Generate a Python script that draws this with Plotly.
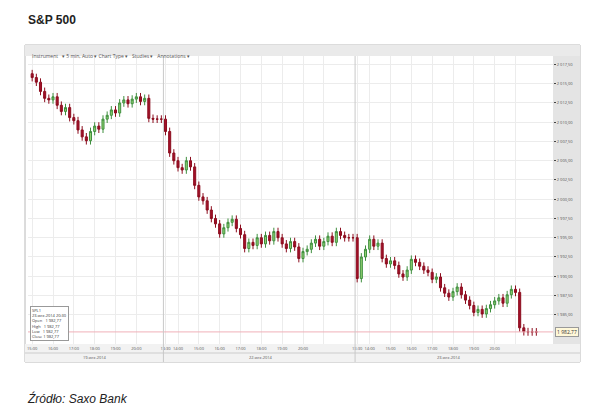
import plotly.graph_objects as go

closes = [2015.8, 2015.2, 2014.0, 2013.1, 2012.9, 2013.3, 2012.2, 2011.4, 2011.9, 2010.6, 2010.2, 2009.0, 2008.1, 2007.6, 2008.8, 2009.5, 2009.1, 2010.4, 2010.9, 2011.6, 2011.2, 2012.5, 2012.9, 2012.4, 2013.0, 2013.3, 2012.7, 2013.1, 2010.5,
          2010.4, 2010.4, 2010.4,
          2008.8, 2006.0, 2005.0, 2004.1, 2003.8, 2005.0, 2004.2, 2001.8, 2000.3, 1999.8, 1998.6, 1997.5, 1996.8, 1995.5, 1996.3, 1997.0, 1997.4, 1996.2, 1995.4, 1993.6, 1994.4, 1994.0, 1995.0, 1994.2, 1995.3, 1994.6, 1995.8, 1995.0, 1994.2, 1993.6, 1994.5, 1993.8, 1992.3, 1993.2, 1993.5, 1994.3, 1994.8, 1993.9, 1994.5, 1995.2, 1994.4, 1995.8, 1995.3, 1995.0, 1995.0, 1995.0,
          1989.7, 1992.5, 1993.5, 1994.8, 1993.9, 1994.3, 1992.3, 1991.6, 1992.0, 1991.4, 1990.3, 1989.9, 1990.8, 1992.2, 1991.8, 1991.3, 1990.8, 1990.5, 1989.6, 1989.9, 1988.5, 1987.8, 1987.3, 1988.0, 1988.6, 1987.6, 1986.9, 1986.2, 1985.3, 1985.7, 1985.1, 1985.8, 1986.3, 1986.8, 1987.2, 1986.5, 1987.6, 1988.3, 1987.9, 1983.3, 1982.8, 1982.77, 1982.77, 1982.77]
first_open = 2016.3
wick = 0.5
last_price = 1982.77
y_ticks = [1985.0, 1987.5, 1990.0, 1992.5, 1995.0, 1997.5, 2000.0, 2002.5, 2005.0, 2007.5, 2010.0, 2012.5, 2015.0, 2017.5]
x_tick_idx = [0, 5, 10, 15, 20, 25, 32, 35, 40, 45, 50, 55, 60, 65, 70, 78, 81, 86, 91, 96, 101, 106, 111, 116]
x_tick_text = ["15:00", "16:00", "17:00", "18:00", "19:00", "20:00", "13:30", "14:00", "15:00", "16:00", "17:00", "18:00", "19:00", "20:00", "",
               "13:30", "14:00", "15:00", "16:00", "17:00", "18:00", "19:00", "20:00", ""]
day_labels = ["19-wrz-2014", "22-wrz-2014", "23-wrz-2014"]
day_pos = [15, 55, 100]
session_breaks = [31.5, 77.5]

opens = [first_open] + closes[:-1]
highs = [max(o, c) + wick for o, c in zip(opens, closes)]
lows = [min(o, c) - wick for o, c in zip(opens, closes)]
x = list(range(len(closes)))

W, H = 590, 405
def px(v): return v / W
def py(v): return 1 - v / H

fig = go.Figure()
fig.add_trace(go.Candlestick(x=x, open=opens, high=highs, low=lows, close=closes,
    increasing=dict(line=dict(color="#3f8f3f", width=1), fillcolor="#8fcf6f"),
    decreasing=dict(line=dict(color="#8c0d1e", width=1), fillcolor="#a3102a"),
    whiskerwidth=0, showlegend=False))

shapes = [
    dict(type="rect", xref="paper", yref="paper", x0=px(17), x1=px(572), y0=py(354), y1=py(37),
         line=dict(color="#b8b8b8", width=1), fillcolor="rgba(0,0,0,0)", layer="below"),
    dict(type="rect", xref="paper", yref="paper", x0=px(17), x1=px(572), y0=py(48), y1=py(37),
         line=dict(width=0), fillcolor="#eaeaea", layer="below"),
    dict(type="rect", xref="paper", yref="paper", x0=px(545), x1=px(572), y0=py(336), y1=py(48),
         line=dict(width=0), fillcolor="#e4e4e4", layer="below"),
    dict(type="rect", xref="paper", yref="paper", x0=px(17), x1=px(572), y0=py(354), y1=py(336),
         line=dict(width=0), fillcolor="#f2f2f2", layer="below"),
    dict(type="line", xref="paper", yref="paper", x0=px(17), x1=px(572), y0=py(345), y1=py(345),
         line=dict(color="#cccccc", width=1)),
    dict(type="line", xref="paper", yref="y", x0=px(20), x1=px(545), y0=last_price, y1=last_price,
         line=dict(color="#f0b0b8", width=1)),
]
for b in session_breaks:
    shapes.append(dict(type="line", xref="x", yref="paper", x0=b, x1=b, y0=py(354), y1=py(48),
                       line=dict(color="#c8c8c8", width=1)))

ann = [
    dict(text="<b>S&P 500</b>", x=px(18), y=py(12), xref="paper", yref="paper", xanchor="left", yanchor="middle",
         showarrow=False, font=dict(size=12, color="#222", family="Liberation Sans")),
    dict(text="<i>Źródło: Saxo Bank</i>", x=px(17), y=py(390), xref="paper", yref="paper", xanchor="left",
         yanchor="middle", showarrow=False, font=dict(size=12, color="#222", family="Liberation Sans")),
    dict(text="1 982,77", x=px(547), y=last_price, xref="paper", yref="y", xanchor="left", showarrow=False,
         font=dict(size=5, color="#333"), bgcolor="#fff8d8", bordercolor="#999", borderwidth=1),
    dict(text="Instrument &nbsp; ▾ 5 min, Auto ▾ Chart Type ▾ &nbsp; Studies ▾ &nbsp; Annotations ▾",
         x=px(22), y=py(42.5), xref="paper", yref="paper", xanchor="left", showarrow=False,
         font=dict(size=5, color="#555")),
    dict(text="SPL1<br>23-wrz-2014 20:30<br>Open &nbsp; 1 982,77<br>High &nbsp; 1 982,77<br>Low &nbsp; 1 982,77<br>Close 1 982,77",
         x=px(22), y=py(298), xref="paper", yref="paper", xanchor="left", yanchor="top", align="left",
         showarrow=False, font=dict(size=4, color="#333"), bgcolor="white", bordercolor="#999", borderwidth=1),
]
for t, p in zip(day_labels, day_pos):
    ann.append(dict(text=t, x=p, y=py(349.5), xref="x", yref="paper", showarrow=False, yanchor="middle",
                    font=dict(size=4, color="#555")))

fig.update_layout(
    width=W, height=H, margin=dict(l=0, r=0, t=0, b=0),
    paper_bgcolor="white", plot_bgcolor="white",
    shapes=shapes, annotations=ann,
    xaxis=dict(domain=[px(20), px(545)], range=[-1, len(closes) + 3], rangeslider=dict(visible=False),
               tickvals=x_tick_idx, ticktext=x_tick_text, tickfont=dict(size=4, color="#555"),
               tickangle=0, ticklabelstandoff=1, showgrid=True, gridcolor="#ececec", zeroline=False, anchor="y"),
    yaxis=dict(domain=[py(336), py(48)], range=[1981.2, 2018.6], side="right", tickvals=y_ticks,
               ticktext=[f"{v:,.2f}".replace(",", " ").replace(".", ",") for v in y_ticks],
               tickfont=dict(size=4, color="#555"), showgrid=True, gridcolor="#ececec",
               zeroline=False, ticks="outside", ticklen=2),
)
fig.write_html("out.html")
